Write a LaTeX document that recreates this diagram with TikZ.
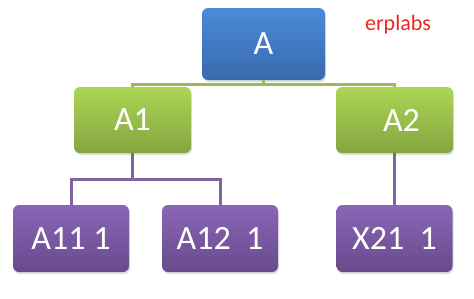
\documentclass[tikz,border=0pt]{standalone}
\usepackage{fontspec}
\setmainfont{Carlito}
\usepackage{tikz}
\usetikzlibrary{shapes, positioning, calc, shadows}

\definecolor{bluetop}{HTML}{4A8BD9}
\definecolor{bluebot}{HTML}{386AAE}
\definecolor{greentop}{HTML}{ABD655}
\definecolor{greenbot}{HTML}{84A53F}
\definecolor{purptop}{HTML}{8A66B6}
\definecolor{purpbot}{HTML}{684A8C}
\definecolor{greenline}{HTML}{9BBB59}
\definecolor{purpline}{HTML}{8064A2}
\definecolor{labred}{HTML}{E8281C}

\begin{document}
\begin{tikzpicture}[x=1pt, y=-1pt,
        box/.style={rounded corners=6pt, inner sep=0pt, text=white,
            font=\fontsize{34}{34}\selectfont,
            drop shadow={opacity=0.25, shadow xshift=1pt, shadow yshift=-2pt}},
        topbox/.style={box, minimum width=123pt, minimum height=72pt,
            top color=bluetop, bottom color=bluebot},
        midbox/.style={box, minimum width=117pt, minimum height=66pt,
            top color=greentop, bottom color=greenbot},
        leafbox/.style={box, minimum width=116pt, minimum height=67pt,
            top color=purptop, bottom color=purpbot},
        greenlink/.style={greenline, line width=3pt},
        purplink/.style={purpline, line width=3pt}]
        \useasboundingbox (0,0) rectangle (474,298);

        % --- NODES ---
        \node[topbox] (A) at (263.5,44) {A};
        \node[midbox] (A1) at (132.5,120) {A1};
        \node[midbox] (A2) at (394.5,120) {\hspace{14pt}A2};
        \node[leafbox] (A11) at (71,238.5) {A11 1};
        \node[leafbox] (A12) at (220,238.5) {A12\ \ 1};
        \node[leafbox] (X21) at (394.5,238.5) {X21\ \ 1};

        \node[text=labred, font=\fontsize{22}{22}\selectfont] (brand) at (398,25) {erplabs};

        % --- CONNECTORS ---
        \coordinate (bus1) at (263.5,84);
        \coordinate (bus2) at (132.5,179);

        \draw[greenlink] (A.south) -- (bus1);
        \draw[greenlink] (A1.north) |- (bus1) -| (A2.north);

        \draw[purplink] (A1.south) -- (bus2);
        \draw[purplink] (A11.north) |- (bus2) -| (A12.north);
        \draw[purplink] (A2.south) -- (X21.north);

    \end{tikzpicture}
\end{document}
